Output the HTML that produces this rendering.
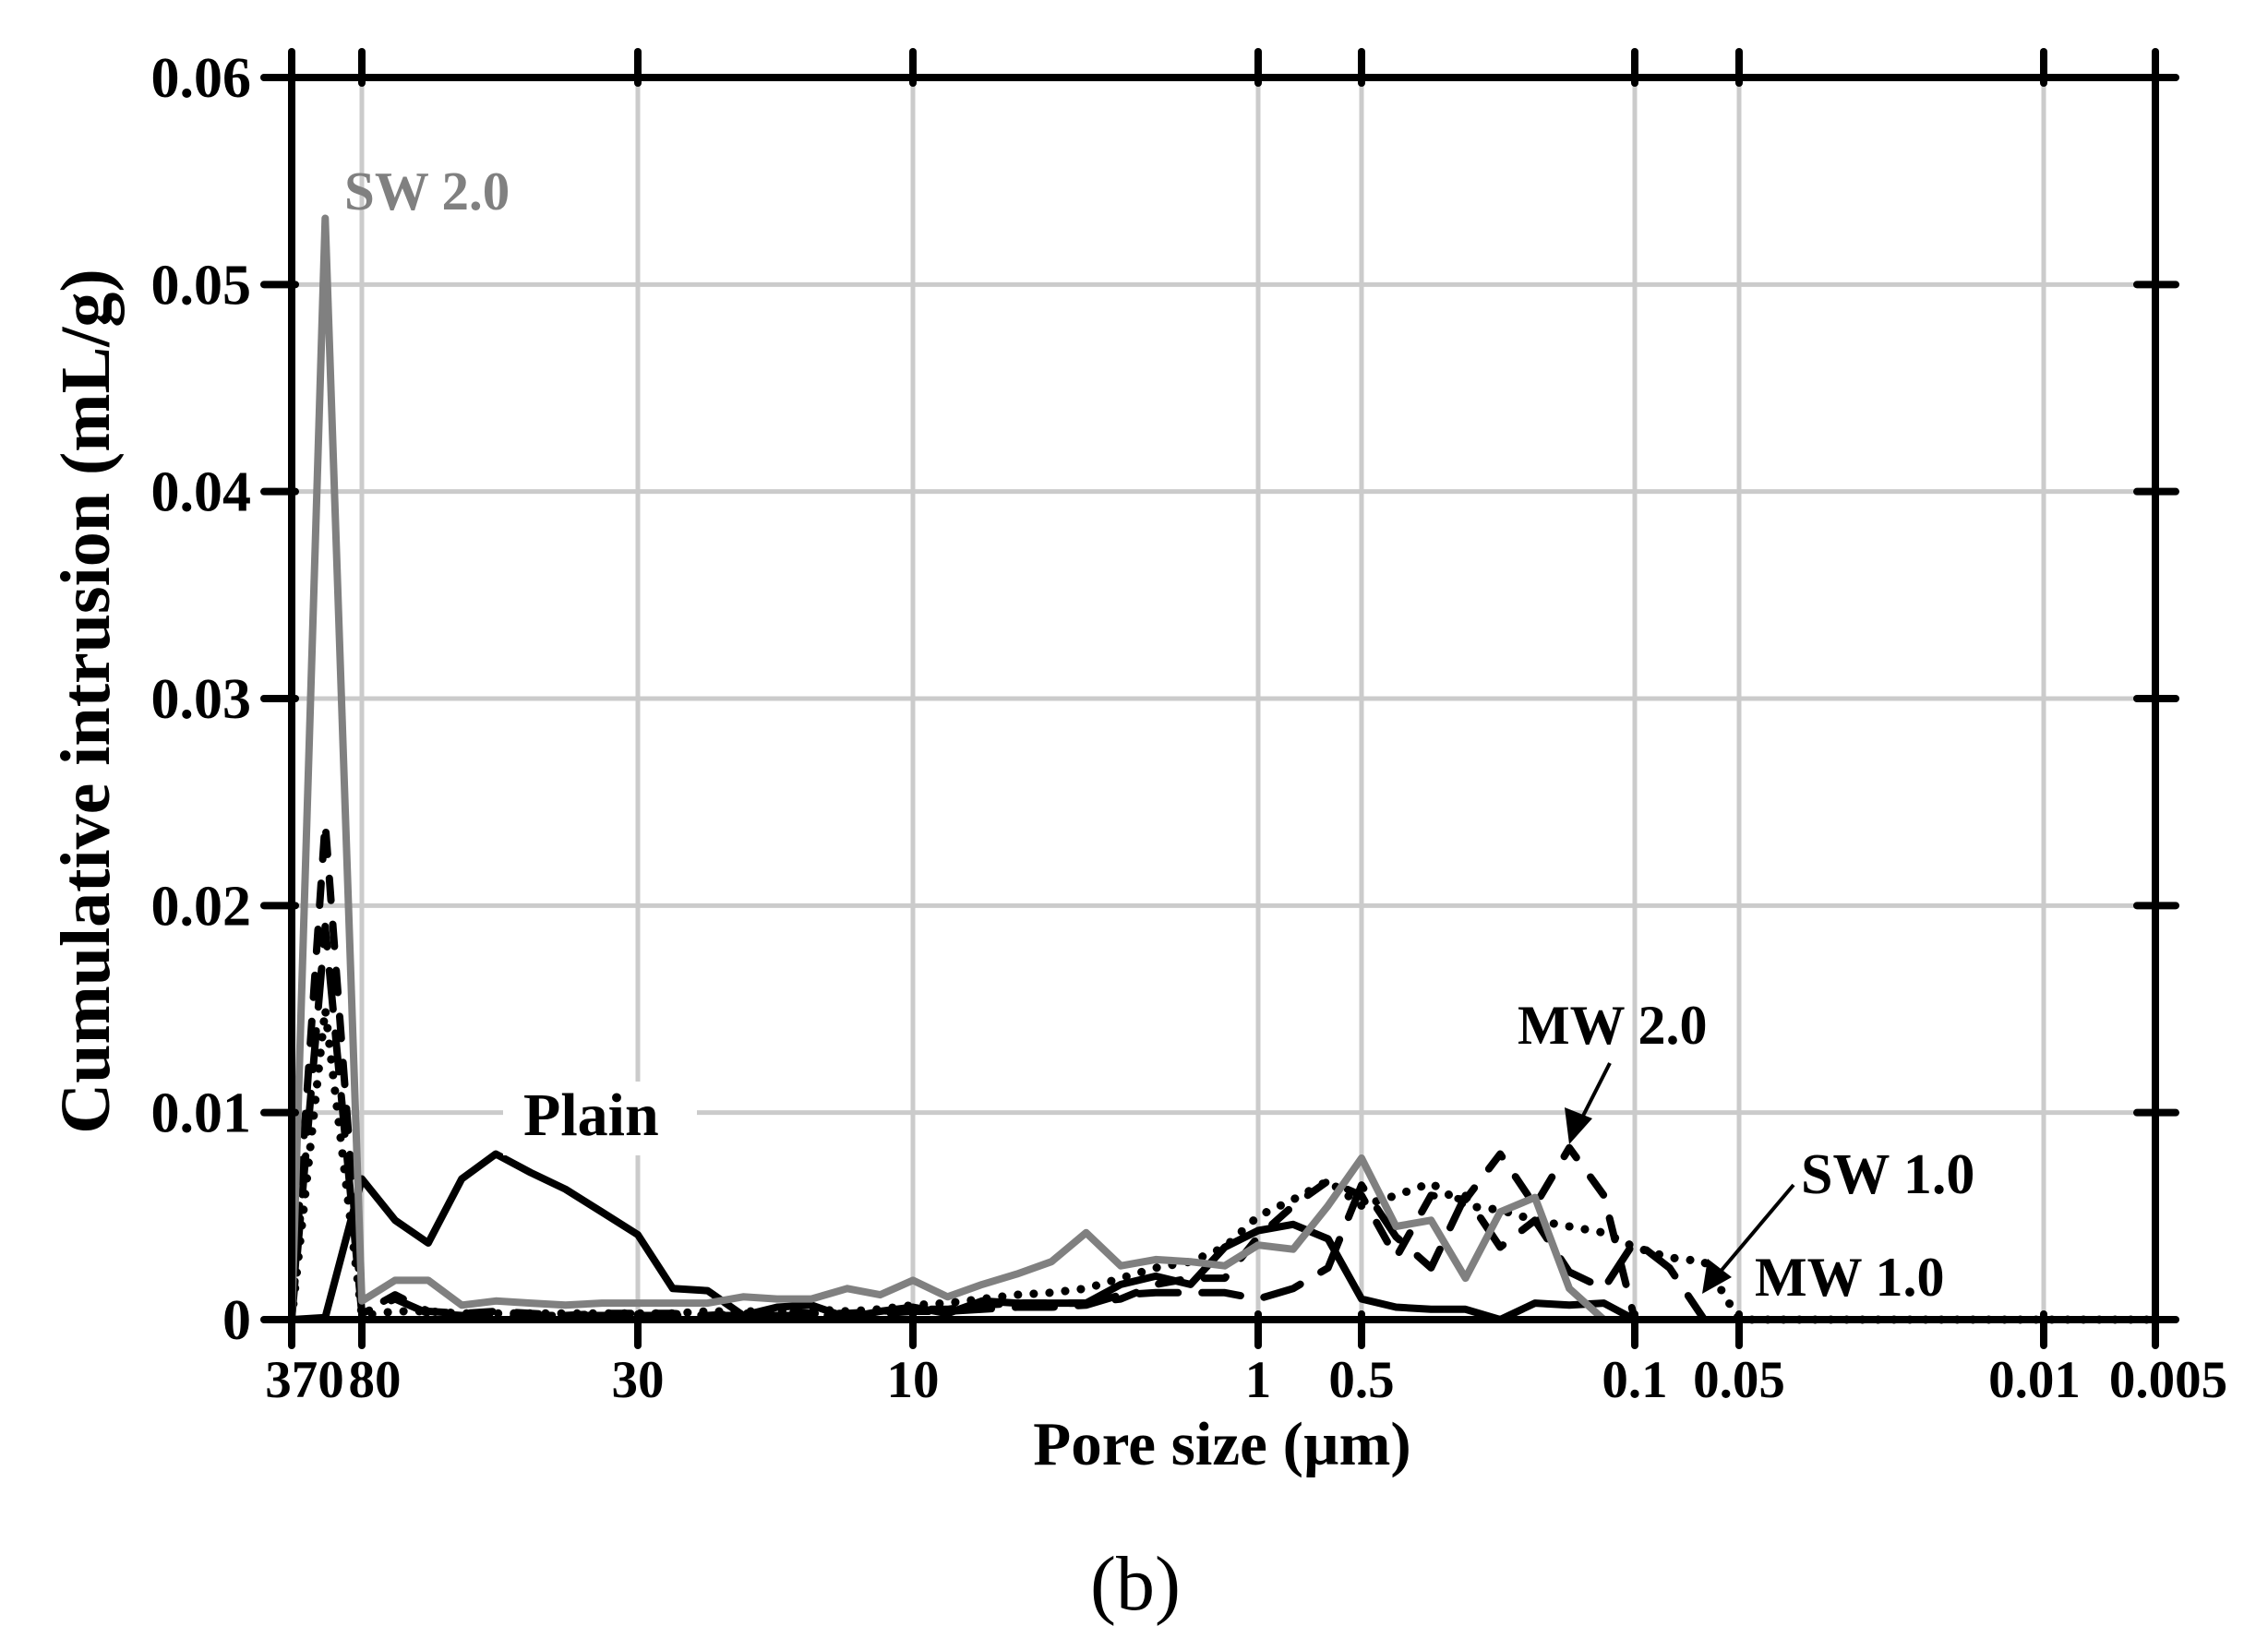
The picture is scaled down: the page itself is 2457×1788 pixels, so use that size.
<!DOCTYPE html>
<html><head><meta charset="utf-8"><style>
html,body{margin:0;padding:0;background:#fff;}
svg{display:block;font-family:"Liberation Serif",serif;}
</style></head><body>
<svg id="chart" width="2457" height="1788" viewBox="0 0 2457 1788">
<g id="grid"></g>
<g id="series"></g>
<g id="axes"></g>
<g id="annot">
<text x="373" y="227" font-size="59" font-weight="bold" fill="#808080">SW 2.0</text>
<rect x="545" y="1172" width="210" height="80" fill="#fff"></rect>
<text x="567" y="1230" font-size="66" font-weight="bold" fill="#000">Plain</text>
<text x="1644" y="1131" font-size="60" font-weight="bold" fill="#000">MW 2.0</text>
<line x1="1744" y1="1152" x2="1712" y2="1215" stroke="#000" stroke-width="4"></line>
<polygon points="1700,1240 1695,1200 1725,1212" fill="#000"></polygon>
<text x="1951" y="1293" font-size="62" font-weight="bold" fill="#000">SW 1.0</text>
<line x1="1943" y1="1284" x2="1862" y2="1380" stroke="#000" stroke-width="4"></line>
<polygon points="1844,1402 1850,1364 1876,1384" fill="#000"></polygon>
<text x="1901" y="1404" font-size="60" font-weight="bold" fill="#000">MW 1.0</text>
</g>
<text x="1324" y="1587" font-size="67" font-weight="bold" text-anchor="middle">Pore size (µm)</text>
<text transform="translate(118,760) rotate(-90)" font-size="76" font-weight="bold" text-anchor="middle">Cumulative intrusion (mL/g)</text>
<text x="1230" y="1744" font-size="84" text-anchor="middle">(b)</text>
</svg>
<script>
// Data
const pores = [370,178,80,71.1,63.2,56.1,49.7,43.9,38.8,34.1,30,26.1,22.7,19.7,17.2,15.0,13.0,11.4,10,7.94,6.30,5.0,3.97,3.15,2.50,1.98,1.57,1.25,1,0.791,0.626,0.5,0.408,0.332,0.271,0.221,0.180,0.147,0.120,0.1,0.0794,0.063,0.05,0.005];
const plainVals = [0,0.0001,0.0068,0.0048,0.0037,0.0068,0.0080,0.0071,0.0063,0.0052,0.0041,0.0015,0.0014,0.0002,0.0006,0.0007,0.0001,0.0004,0.0006,0.0003,0.0009,0.0008,0.0008,0.0008,0.0017,0.0021,0.0017,0.0035,0.0043,0.0046,0.0039,0.0010,0.0006,0.0005,0.0005,0,0.0008,0.0007,0.0008,0,0,0,0,0];
const sw20Vals = [0,0.0532,0.0009,0.0019,0.0019,0.0007,0.0009,0.0008,0.0007,0.0008,0.0008,0.0008,0.0008,0.0011,0.0010,0.0010,0.0015,0.0012,0.0019,0.0011,0.0017,0.0022,0.0028,0.0042,0.0026,0.0029,0.0028,0.0026,0.0036,0.0034,0.0055,0.0078,0.0045,0.0048,0.0020,0.0052,0.0059,0.0015,0,0,0,0,0,0];
const mw20Vals = [0,0.0240,0.0003,0.0012,0.0004,0.0003,0.0004,0.0003,0.0002,0.0003,0.0003,0.0003,0.0002,0.0003,0.0004,0.0003,0.0003,0.0004,0.0005,0.0005,0.0007,0.0008,0.0008,0.0008,0.0010,0.0017,0.0020,0.0020,0.0040,0.0055,0.0067,0.0060,0.0030,0.0060,0.0058,0.0080,0.0055,0.0083,0.0060,0,0,0,0,0];
const mw10Vals = [0,0.0190,0.0003,0.0010,0.0003,0.0002,0.0002,0.0002,0.0002,0.0002,0.0002,0.0002,0.0002,0.0002,0.0002,0.0002,0.0002,0.0003,0.0004,0.0004,0.0005,0.0006,0.0006,0.0007,0.0012,0.0013,0.0013,0.0013,0.0010,0.0015,0.0025,0.0065,0.0040,0.0025,0.0060,0.0035,0.0048,0.0023,0.0015,0.0038,0.0025,0,0,0];
const sw10Vals = [0,0.0150,0.0002,0.0004,0.0004,0.0003,0.0003,0.0003,0.0003,0.0003,0.0003,0.0003,0.0004,0.0004,0.0004,0.0005,0.0004,0.0005,0.0007,0.0008,0.0010,0.0012,0.0013,0.0015,0.0020,0.0025,0.0028,0.0035,0.0050,0.0058,0.0067,0.0055,0.0060,0.0066,0.0055,0.0053,0.0048,0.0045,0.0042,0.0035,0.0030,0.0028,0,0];
const xTickVals = [370,80,30,10,1,0.5,0.1,0.05,0.01,0.005];
const xTickLabels = ["370","80","30","10","1","0.5","0.1","0.05","0.01","0.005"];
const yTickVals = [0,0.01,0.02,0.03,0.04,0.05,0.06];
const yTickLabels = ["0","0.01","0.02","0.03","0.04","0.05","0.06"];

const NS="http://www.w3.org/2000/svg";
const L=316,R=2335,T=84,B=1430;
const tickPx=[316,392,691,989,1363,1475,1771,1884,2214,2335];
function xs(p){
  for(let i=0;i<xTickVals.length-1;i++){
    const a=xTickVals[i],b=xTickVals[i+1];
    if(p<=a&&p>=b){const f=Math.log(a/p)/Math.log(a/b);return tickPx[i]+f*(tickPx[i+1]-tickPx[i]);}
  }
  return p>370?L:R;
}
function ys(v){return B-(v/0.06)*(B-T);}
function mk(tag,attrs,parent){const e=document.createElementNS(NS,tag);for(const k in attrs)e.setAttribute(k,attrs[k]);parent.appendChild(e);return e;}
const grid=document.getElementById('grid'),axes=document.getElementById('axes'),ser=document.getElementById('series');
xTickVals.forEach((v,i)=>{if(i===0||i===xTickVals.length-1)return;
  const g=mk('line',{x1:xs(v),x2:xs(v),y1:T,y2:B,stroke:'#cbcbcb','stroke-width':5},grid);
  
  });
yTickVals.forEach((v,i)=>{if(i===0||i===yTickVals.length-1)return;
  const g=mk('line',{x1:L,x2:R,y1:ys(v),y2:ys(v),stroke:'#cbcbcb','stroke-width':5},grid);
  
  });
function drawSeries(vals,name,color,dash,w){
  const d=vals.map((v,i)=>(i?'L':'M')+xs(pores[i]).toFixed(1)+','+ys(v).toFixed(1)).join(' ');
  const attrs={d:d,fill:'none',stroke:color,'stroke-width':w,'stroke-linejoin':'round','stroke-linecap':dash?'round':'butt'};
  if(dash)attrs['stroke-dasharray']=dash;
  const p=mk('path',attrs,ser);
  
  
}
drawSeries(sw10Vals,'series-sw-1-0','#000','0.1 17',9);
drawSeries(mw10Vals,'series-mw-1-0','#000','42 26',8);
drawSeries(mw20Vals,'series-mw-2-0','#000','24 26',8);
drawSeries(plainVals,'series-plain','#000',null,8);
drawSeries(sw20Vals,'series-sw-2-0','#808080',null,8);
const fr=mk('rect',{x:L,y:T,width:R-L,height:B-T,fill:'none',stroke:'#000','stroke-width':8},axes);


xTickVals.forEach((v,i)=>{const x=xs(v);
  const t1=mk('line',{x1:x,x2:x,y1:B-6,y2:B+28,stroke:'#000','stroke-width':8,'stroke-linecap':'round'},axes);
  
  
  const t2=mk('line',{x1:x,x2:x,y1:T-28,y2:T+6,stroke:'#000','stroke-width':8,'stroke-linecap':'round'},axes);
  
  
  let lx=x; if(i===0)lx=x+14; if(i===1)lx=x+14; if(i===8)lx=x-10; if(i===9)lx=x+14;
  const tx=mk('text',{x:lx,y:1514,'font-size':57,'font-weight':'bold','text-anchor':'middle'},axes);
  tx.textContent=xTickLabels[i];
  
  
});
yTickVals.forEach((v,i)=>{const y=ys(v);
  const t1=mk('line',{x1:L-30,x2:L+4,y1:y,y2:y,stroke:'#000','stroke-width':8,'stroke-linecap':'round'},axes);
  
  
  const t2=mk('line',{x1:R-20,x2:R+22,y1:y,y2:y,stroke:'#000','stroke-width':8,'stroke-linecap':'round'},axes);
  
  
  const tx=mk('text',{x:272,y:y+21,'font-size':62,'font-weight':'bold','text-anchor':'end'},axes);
  tx.textContent=yTickLabels[i];
  
  
});
document.getElementById('chart').appendChild(document.getElementById('annot'));
</script>
</body></html>
